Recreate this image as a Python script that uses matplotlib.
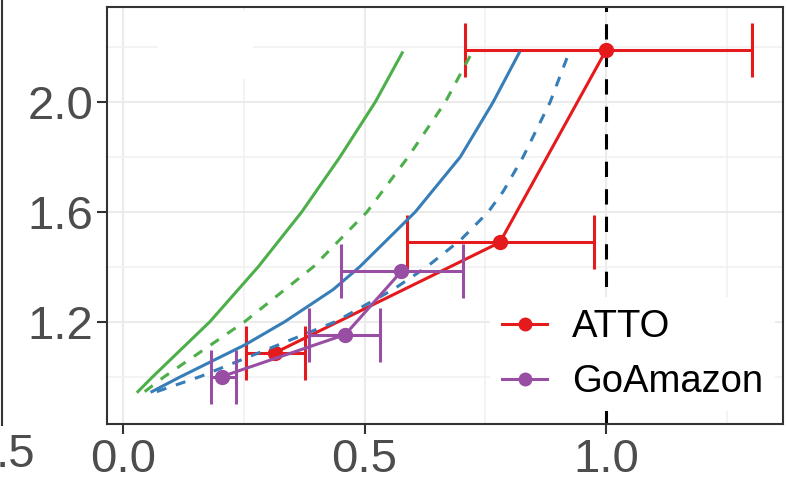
import matplotlib
matplotlib.use("Agg")
import matplotlib.pyplot as plt
from matplotlib.lines import Line2D
from matplotlib.patches import Rectangle

plt.rcParams['font.family'] = ['Liberation Sans', 'DejaVu Sans']

# model curves: points (x at given y)
green_solid_y = [0.945, 1.0, 1.2, 1.4, 1.6, 1.8, 2.0, 2.18]
green_solid_x = [0.031, 0.062, 0.18, 0.28, 0.37, 0.449, 0.522, 0.578]
green_dash_y = [0.945, 1.0, 1.2, 1.4, 1.6, 1.8, 2.0, 2.18]
green_dash_x = [0.045, 0.086, 0.252, 0.394, 0.505, 0.59, 0.667, 0.722]
blue_solid_y = [0.945, 1.0, 1.116, 1.2, 1.317, 1.4, 1.6, 1.8, 2.0, 2.18]
blue_solid_x = [0.06, 0.12, 0.253, 0.335, 0.435, 0.49, 0.605, 0.698, 0.766, 0.82]
blue_dash_y = [0.945, 1.0, 1.2, 1.317, 1.4, 1.5, 1.6, 1.675, 1.8, 2.0, 2.18]
blue_dash_x = [0.07, 0.16, 0.44, 0.559, 0.629, 0.70, 0.756, 0.787, 0.828, 0.884, 0.923]

# observations
atto_x = [0.315, 0.78, 1.0]
atto_y = [1.087, 1.489, 2.19]
atto_lo = [0.255, 0.588, 0.708]
atto_hi = [0.377, 0.975, 1.302]

goam_x = [0.205, 0.46, 0.576]
goam_y = [1.0, 1.153, 1.383]
goam_lo = [0.182, 0.385, 0.451]
goam_hi = [0.234, 0.532, 0.704]

RED = '#E41A1C'
PURPLE = '#984EA3'
GREEN = '#4DAF4A'
BLUE = '#377EB8'
LW = 2.2

fig = plt.figure(figsize=(7.87, 4.82), dpi=100)
ax = fig.add_axes([107 / 787, 1 - 424 / 482, 676 / 787, 417 / 482])

ax.set_xlim(-0.033, 1.366)
ax.set_ylim(0.827, 2.347)
ax.set_xticks([0.0, 0.5, 1.0])
ax.set_xticklabels(['0.0', '0.5', '1.0'])
ax.set_yticks([1.2, 1.6, 2.0])
ax.set_yticklabels(['1.2', '1.6', '2.0'])
ax.set_xticks([0.25, 0.75, 1.25], minor=True)
ax.set_yticks([1.0, 1.4, 1.8, 2.2], minor=True)
ax.grid(which='major', color='#EBEBEB', lw=1.5, zorder=0)
ax.grid(which='minor', color='#F0F0F0', lw=1.1, zorder=0)
ax.set_axisbelow(True)
ax.tick_params(which='major', length=7, width=1.5, color='#333333',
               labelsize=34, labelcolor='#4D4D4D', pad=3)
ax.tick_params(which='minor', length=0)
for s in ax.spines.values():
    s.set_color('#333333')
    s.set_linewidth(1.5)

# blanked region at top left
ax.add_patch(Rectangle((0.072, 2.084), 0.197, 0.25, facecolor='white',
                       edgecolor='none', zorder=1))

ax.axvline(1.0, color='black', lw=LW, dashes=(5, 4), zorder=2)

ax.errorbar(atto_x, atto_y, xerr=[[a - b for a, b in zip(atto_x, atto_lo)],
                                  [b - a for a, b in zip(atto_x, atto_hi)]],
            color=RED, lw=LW, marker='o', ms=10, capsize=19.5, capthick=LW,
            elinewidth=LW, zorder=3)

ax.plot(green_solid_x, green_solid_y, color=GREEN, lw=LW, zorder=4)
ax.plot(green_dash_x, green_dash_y, color=GREEN, lw=LW, dashes=(3.3, 3.3), zorder=4)
ax.plot(blue_solid_x, blue_solid_y, color=BLUE, lw=LW, zorder=4)
ax.plot(blue_dash_x, blue_dash_y, color=BLUE, lw=LW, dashes=(3.3, 3.3), zorder=4)

ax.errorbar(goam_x, goam_y, xerr=[[a - b for a, b in zip(goam_x, goam_lo)],
                                  [b - a for a, b in zip(goam_x, goam_hi)]],
            color=PURPLE, lw=LW, marker='o', ms=10, capsize=19.5, capthick=LW,
            elinewidth=LW, zorder=5)

handles = [Line2D([], [], color=RED, lw=LW, marker='o', ms=9),
           Line2D([], [], color=PURPLE, lw=LW, marker='o', ms=9)]
leg = ax.legend(handles, ['ATTO', 'GoAmazon'], loc='lower right',
                bbox_to_anchor=(0.988, 0.03), fontsize=27.5, frameon=True,
                facecolor='white', edgecolor='none', framealpha=1,
                fancybox=False, handlelength=1.2, handletextpad=0.65,
                labelspacing=0.5, borderpad=0.3, borderaxespad=0)
leg.set_zorder(6)

# edge of neighbouring panel
fig.add_artist(Line2D([1.5 / 787, 1.5 / 787], [1 - 425 / 482, 1],
                      transform=fig.transFigure, color='#333333', lw=1.5))
fig.text(35 / 787, 1 - 455 / 482, '.5', ha='right', va='center',
         fontsize=34, color='#4D4D4D')

fig.savefig('out.png', dpi=100)
